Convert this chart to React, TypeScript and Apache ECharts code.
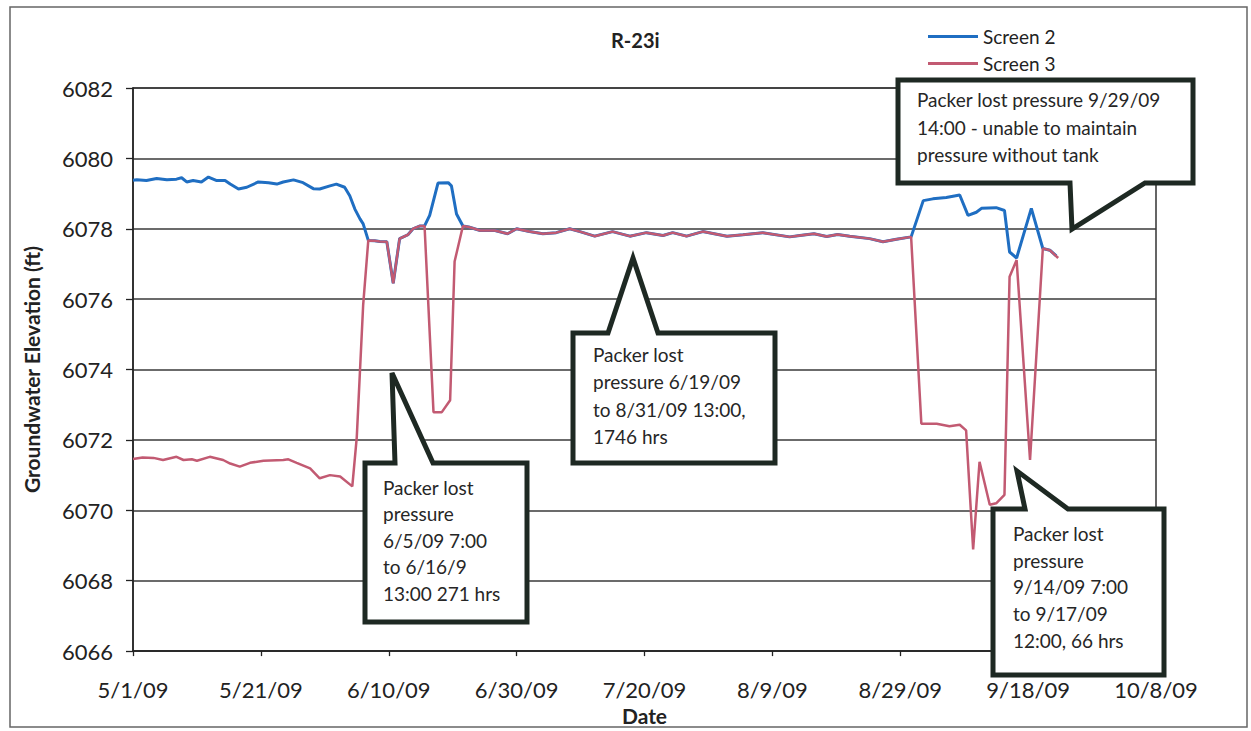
import React, { useEffect, useRef } from "react";
import * as echarts from "echarts";

// x values are days since 5/1/09
const xTickStart = 0;
const xTickEnd = 160;
const xTickStep = 20;
const yMin = 6066;
const yMax = 6082;
const yStep = 2;

// Screen 2 only (before packer loss)
const s2EarlyDays = [0, 0.6, 2.1, 3.7, 5.3, 6.8, 7.6, 8.4, 9.4, 10.7, 11.8, 13.1, 14.4, 15.2, 16.5, 17.8, 19.6, 21.2, 22.5, 23.5, 25.1, 26.6, 28.2, 29.2, 30.8, 31.8, 33.1, 33.9, 34.7, 35.5, 36.0];
const s2EarlyVals = [6079.38, 6079.39, 6079.37, 6079.43, 6079.39, 6079.41, 6079.45, 6079.33, 6079.37, 6079.33, 6079.47, 6079.37, 6079.37, 6079.27, 6079.13, 6079.18, 6079.33, 6079.31, 6079.27, 6079.33, 6079.39, 6079.31, 6079.14, 6079.13, 6079.22, 6079.27, 6079.18, 6078.94, 6078.56, 6078.28, 6078.14];

// Screen 3 only (before packer loss)
const s3EarlyDays = [0, 1.5, 3.2, 4.7, 6.8, 7.9, 9.2, 10.0, 12.0, 14.1, 15.2, 16.7, 18.3, 20.4, 23.5, 24.3, 25.6, 27.7, 29.2, 30.8, 32.4, 34.3, 35.0, 36.0];
const s3EarlyVals = [6071.46, 6071.5, 6071.49, 6071.43, 6071.52, 6071.43, 6071.45, 6071.41, 6071.52, 6071.43, 6071.33, 6071.24, 6071.35, 6071.41, 6071.43, 6071.45, 6071.35, 6071.19, 6070.91, 6071.0, 6070.96, 6070.68, 6072.08, 6075.84];

// Both screens equal (packer lost pressure 6/5 - 6/16)
const jointADays = [36.8, 37.8, 38.6, 39.7, 40.7, 41.7, 43.0, 43.8, 44.9, 45.6];
const jointAVals = [6077.67, 6077.66, 6077.64, 6077.63, 6076.45, 6077.72, 6077.83, 6078.0, 6078.08, 6078.08];

// Screen 2 rise / Screen 3 dive mid-June
const s2PeakDays = [46.4, 47.7, 49.3, 49.8, 50.6];
const s2PeakVals = [6078.38, 6079.3, 6079.31, 6079.22, 6078.42];
const s3DiveDays = [47.0, 48.3, 49.6, 50.3];
const s3DiveVals = [6072.79, 6072.79, 6073.13, 6077.07];

// Both screens equal (packer lost pressure 6/19 - 8/31)
const jointBDays = [51.6, 52.5, 54.3, 56.6, 58.6, 60.0, 62.0, 64.1, 66.2, 68.3, 69.9, 72.2, 75.0, 77.7, 80.3, 82.9, 84.4, 86.6, 89.1, 92.9, 95.4, 98.5, 102.7, 104.3, 106.5, 108.5, 110.2, 112.1, 115.2, 117.3, 119.4, 121.7];
const jointBVals = [6078.08, 6078.05, 6077.95, 6077.95, 6077.86, 6078.0, 6077.92, 6077.86, 6077.89, 6078.0, 6077.92, 6077.79, 6077.92, 6077.79, 6077.89, 6077.81, 6077.89, 6077.79, 6077.92, 6077.79, 6077.83, 6077.89, 6077.77, 6077.81, 6077.86, 6077.78, 6077.84, 6077.79, 6077.72, 6077.63, 6077.7, 6077.77];

// September
const s2LateDays = [123.6, 125.1, 127.2, 129.3, 130.6, 131.9, 132.7, 135.0, 136.3, 137.1, 138.2, 140.5, 142.3, 143.4, 144.4];
const s2LateVals = [6078.8, 6078.85, 6078.89, 6078.96, 6078.38, 6078.47, 6078.58, 6078.6, 6078.52, 6077.34, 6077.17, 6078.58, 6077.44, 6077.39, 6077.23];
const s3LateDays = [123.3, 125.7, 127.7, 129.3, 130.3, 131.4, 132.4, 134.0, 135.0, 136.3, 137.1, 138.2, 140.3, 142.3, 143.4, 144.7];
const s3LateVals = [6072.46, 6072.46, 6072.39, 6072.43, 6072.27, 6068.89, 6071.38, 6070.16, 6070.2, 6070.44, 6076.64, 6077.11, 6071.43, 6077.44, 6077.39, 6077.17];

const seriesNames = ["Screen 2", "Screen 3"];
const seriesColors = ["#1f6ec2", "#c25a72"];

const zip = (d: number[], v: number[]) => d.map((x, i) => [x, v[i]]);

const screen2 = [
  ...zip(s2EarlyDays, s2EarlyVals),
  ...zip(jointADays, jointAVals),
  ...zip(s2PeakDays, s2PeakVals),
  ...zip(jointBDays, jointBVals),
  ...zip(s2LateDays, s2LateVals),
];
const screen3 = [
  ...zip(s3EarlyDays, s3EarlyVals),
  ...zip(jointADays, jointAVals),
  ...zip(s3DiveDays, s3DiveVals),
  ...zip(jointBDays, jointBVals),
  ...zip(s3LateDays, s3LateVals),
];

const BASE = Date.UTC(2009, 4, 1);
const fmtDay = (d: number) => {
  const t = new Date(BASE + d * 86400000);
  return `${t.getUTCMonth() + 1}/${t.getUTCDate()}/09`;
};

const FONT = "Lato, 'Open Sans', sans-serif";
const BOX = "#1e2923";

const callout = (points: number[][], text: string, tx: number, ty: number, lh: number) => [
  {
    type: "polygon",
    z: 100,
    shape: { points },
    style: { fill: "#ffffff", stroke: BOX, lineWidth: 5, lineJoin: "miter" },
  },
  {
    type: "text",
    z: 101,
    x: tx,
    y: ty,
    style: { text, fontFamily: FONT, fontSize: 19, fill: "#262626", lineHeight: lh },
  },
];

export default function App() {
  const ref = useRef<HTMLDivElement>(null);
  useEffect(() => {
    if (!ref.current) return;
    const chart = echarts.init(ref.current, undefined, { renderer: "svg" });
    chart.setOption({
      animation: false,
      backgroundColor: "#ffffff",
      title: {
        text: "R-23i",
        left: 611,
        top: 30,
        padding: 0,
        textStyle: { fontFamily: FONT, fontSize: 20, fontWeight: "bold", color: "#222" },
      },
      legend: {
        orient: "vertical",
        left: 928,
        top: 27,
        padding: 0,
        icon: "rect",
        itemWidth: 50,
        itemHeight: 3,
        itemGap: 8,
        data: seriesNames,
        textStyle: { fontFamily: FONT, fontSize: 19, color: "#222" },
      },
      grid: {
        left: 133,
        top: 88,
        width: 1023,
        height: 568,
        show: true,
        borderColor: "#333",
        borderWidth: 1.5,
        backgroundColor: "transparent",
      },
      xAxis: {
        type: "value",
        min: xTickStart,
        max: xTickEnd,
        interval: xTickStep,
        name: "Date",
        nameLocation: "middle",
        nameGap: 51,
        nameTextStyle: { fontFamily: FONT, fontSize: 21, fontWeight: "bold", color: "#222" },
        axisLine: { show: true, lineStyle: { color: "#222", width: 1.5 } },
        axisTick: { show: true, inside: false, length: 5, lineStyle: { color: "#222", width: 1.3 } },
        axisLabel: {
          formatter: (v: number) => fmtDay(v),
          margin: 27,
          fontFamily: FONT,
          fontSize: 22,
          color: "#222",
        },
        splitLine: { show: false },
      },
      yAxis: {
        type: "value",
        min: yMin,
        max: yMax,
        interval: yStep,
        name: "Groundwater Elevation (ft)",
        nameLocation: "middle",
        nameGap: 91,
        nameTextStyle: { fontFamily: FONT, fontSize: 21, fontWeight: "bold", color: "#222" },
        axisLine: { show: true, lineStyle: { color: "#222", width: 1.5 } },
        axisTick: { show: true, inside: false, length: 7, lineStyle: { color: "#222", width: 1.3 } },
        axisLabel: {
          formatter: (v: number) => String(v),
          margin: 20,
          fontFamily: FONT,
          fontSize: 22,
          color: "#222",
        },
        splitLine: { show: true, lineStyle: { color: "#3a3a3a", width: 1.5 } },
      },
      series: [
        {
          name: seriesNames[0],
          type: "line",
          data: screen2,
          symbol: "none",
          z: 2,
          lineStyle: { color: seriesColors[0], width: 3 },
          itemStyle: { color: seriesColors[0] },
        },
        {
          name: seriesNames[1],
          type: "line",
          data: screen3,
          symbol: "none",
          z: 3,
          lineStyle: { color: seriesColors[1], width: 2.5 },
          itemStyle: { color: seriesColors[1] },
        },
      ],
      graphic: [
        {
          type: "rect",
          z: 0,
          shape: { x: 10, y: 7, width: 1237, height: 720 },
          style: { fill: "none", stroke: "#666", lineWidth: 1.5 },
        },
        ...callout(
          [[898, 80], [1193, 80], [1193, 183], [1145, 183], [1072, 229], [1070, 183], [898, 183]],
          "Packer lost pressure 9/29/09\n14:00 - unable to maintain\npressure without tank",
          917, 86, 27.5
        ),
        ...callout(
          [[573, 333], [608, 333], [633, 258], [658, 333], [775, 333], [775, 463], [573, 463]],
          "Packer lost\npressure 6/19/09\nto 8/31/09 13:00,\n1746 hrs",
          593, 341, 27.3
        ),
        ...callout(
          [[365, 463], [395, 463], [392, 373], [433, 463], [527, 463], [527, 622], [365, 622]],
          "Packer lost\npressure\n6/5/09 7:00\nto 6/16/9\n13:00 271 hrs",
          383, 474, 26.5
        ),
        ...callout(
          [[993, 509], [1025, 509], [1017, 471], [1068, 509], [1164, 509], [1164, 675], [993, 675]],
          "Packer lost\npressure\n9/14/09 7:00\nto 9/17/09\n12:00, 66 hrs",
          1013, 520, 26.75
        ),
      ],
    });
    return () => chart.dispose();
  }, []);
  return (
    <div
      ref={ref}
      style={{ position: "fixed", left: 0, top: 0, width: 1251, height: 731 }}
    />
  );
}
